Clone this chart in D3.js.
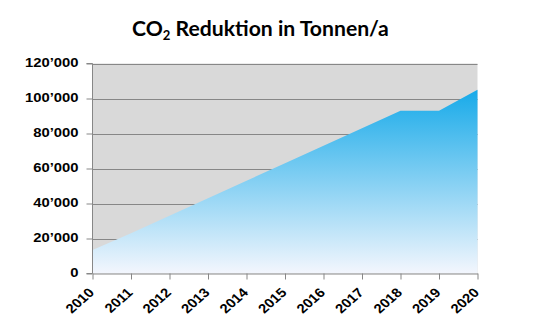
<!DOCTYPE html>
<html>
<head>
<meta charset="utf-8">
<script src="https://cdn.jsdelivr.net/npm/d3@7"></script>
<style>
  html, body { margin: 0; padding: 0; background: #fff; }
  svg { display: block; }
  .axis text { font-family: "Liberation Sans", Arial, sans-serif; font-weight: bold; fill: #000; font-size: 13px; }
</style>
</head>
<body>
<svg id="chart" width="542" height="327"></svg>
<script>
const years = ["2010","2011","2012","2013","2014","2015","2016","2017","2018","2019","2020"];
const values = [13500, 23000, 33000, 43000, 53000, 63000, 73000, 83000, 93000, 93000, 105000];
const yTicks = [0, 20000, 40000, 60000, 80000, 100000, 120000];
const yTickLabels = ["0", "20’000", "40’000", "60’000", "80’000", "100’000", "120’000"];

const svg = d3.select("#chart");
const margin = { left: 92.5, right: 542 - 477.5, top: 63.5, bottom: 327 - 273.5 };
const W = 542, H = 327;
const stretch = 1.14;

const x = d3.scalePoint().domain(years).range([margin.left, W - margin.right]);
const y = d3.scaleLinear().domain([0, 120000]).range([H - margin.bottom, margin.top]);

const defs = svg.append("defs");
const grad = defs.append("linearGradient")
  .attr("id", "areaGrad")
  .attr("x1", 0).attr("y1", 0).attr("x2", 0).attr("y2", 1);
grad.append("stop").attr("offset", "0%").attr("stop-color", "#17aae9");
grad.append("stop").attr("offset", "100%").attr("stop-color", "#f3f6fd");

svg.append("rect")
  .attr("x", margin.left).attr("y", margin.top)
  .attr("width", W - margin.right - margin.left)
  .attr("height", H - margin.bottom - margin.top)
  .attr("fill", "#d9d9d9");

svg.append("g").selectAll("line").data(yTicks.slice(1)).join("line")
  .attr("x1", margin.left).attr("x2", W - margin.right)
  .attr("y1", d => Math.round(y(d)) + 0.5).attr("y2", d => Math.round(y(d)) + 0.5)
  .attr("stroke", "#878787").attr("stroke-width", 1);

const area = d3.area()
  .x((d, i) => x(years[i]))
  .y0(y(0))
  .y1(d => y(d));
svg.append("path")
  .datum(values)
  .attr("d", area)
  .attr("fill", "url(#areaGrad)");

const yAxis = d3.axisLeft(y).tickValues(yTicks)
  .tickFormat((d, i) => yTickLabels[i]).tickSize(6).tickPadding(8);
const gy = svg.append("g").attr("class", "axis")
  .attr("transform", `translate(${margin.left},0)`).call(yAxis)
  .attr("font-family", null).attr("font-size", null);
gy.select(".domain").attr("stroke", "#878787").attr("d", `M-6,${y(120000)}H0V${y(0)}H-6`);
gy.selectAll(".tick line").attr("stroke", "#878787");
gy.selectAll(".tick text")
  .attr("fill", "#000")
  .attr("x", 0)
  .attr("dy", "0.2em")
  .attr("transform", `translate(-14,0) scale(${stretch},1)`);

const xAxis = d3.axisBottom(x).tickSize(6).tickSizeOuter(0);
const gx = svg.append("g").attr("class", "axis")
  .attr("transform", `translate(0,${H - margin.bottom})`).call(xAxis)
  .attr("font-family", null).attr("font-size", null);
gx.select(".domain").attr("stroke", "#878787");
gx.selectAll(".tick line").attr("stroke", "#878787");
gx.selectAll(".tick text")
  .attr("fill", "#000")
  .attr("text-anchor", "end")
  .attr("dy", null)
  .attr("y", 0)
  .attr("transform", `translate(2,20) scale(${stretch},1) rotate(-45)`);

const title = svg.append("text")
  .attr("x", 0).attr("y", 0)
  .attr("text-anchor", "start")
  .style("font-family", "Lato, 'Open Sans', sans-serif")
  .style("font-weight", "bold")
  .style("font-size", "21px")
  .attr("fill", "#000");
title.append("tspan").text("CO");
title.append("tspan").text("2").style("font-size", "13px").attr("dy", 3.5);
title.append("tspan").text(" Reduktion in Tonnen/a").attr("dy", -3.5);
const tw = title.node().getComputedTextLength();
const targetW = 257, titleLeft = 132;
title.attr("transform", `translate(${titleLeft},36) scale(${targetW / tw},1)`);
</script>
</body>
</html>
